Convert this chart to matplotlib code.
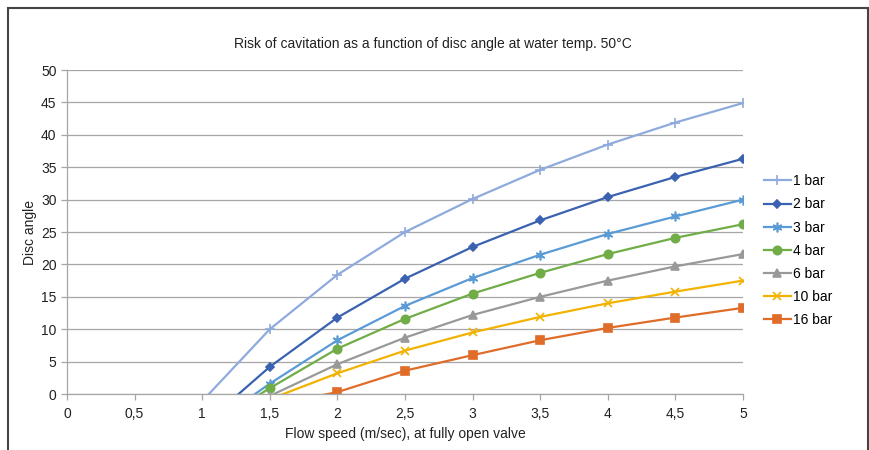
import numpy as np
import matplotlib
matplotlib.use("Agg")
import matplotlib.pyplot as plt
from matplotlib.patches import Rectangle
from matplotlib.ticker import FuncFormatter, MultipleLocator

plt.rcParams['font.family'] = ['Liberation Sans', 'DejaVu Sans']

# 데이터 (x = 유속, 값 = 디스크 각도); 0 아래 값은 축 밖으로 잘림
flow_speed = [1.0, 1.5, 2.0, 2.5, 3.0, 3.5, 4.0, 4.5, 5.0]
bar_1 = [-1.1, 10.0, 18.4, 25.0, 30.1, 34.6, 38.5, 41.9, 44.9]
bar_2 = [-4.9, 4.2, 11.8, 17.8, 22.7, 26.8, 30.4, 33.5, 36.3]
bar_3 = [-5.7, 1.6, 8.3, 13.6, 17.9, 21.5, 24.7, 27.4, 30.0]
bar_4 = [-5.5, 0.9, 7.0, 11.6, 15.5, 18.7, 21.6, 24.1, 26.2]
bar_6 = [np.nan, -0.3, 4.6, 8.7, 12.2, 15.0, 17.5, 19.7, 21.6]
bar_10 = [np.nan, -0.8, 3.2, 6.7, 9.5, 11.9, 14.0, 15.8, 17.5]
bar_16 = [np.nan, -1.8, 0.3, 3.6, 6.0, 8.3, 10.2, 11.8, 13.3]

labels = ["1 bar", "2 bar", "3 bar", "4 bar", "6 bar", "10 bar", "16 bar"]
series = [bar_1, bar_2, bar_3, bar_4, bar_6, bar_10, bar_16]
colors = ["#8FAADC", "#3A62B0", "#5B9BD5", "#70AD47", "#999999", "#F2B200", "#E06C2A"]
markers = ["+", "D", (6, 2, 0), "o", "^", "x", "s"]
msizes = [7, 4.5, 7, 6, 6, 6, 5.5]

fig = plt.figure(figsize=(8.7, 4.5), dpi=100)
ax = fig.add_axes([0.077, 0.1244, 0.777, 0.72])

for y, lab, c, m, ms in zip(series, labels, colors, markers, msizes):
    ax.plot(flow_speed, y, color=c, lw=1.6, marker=m, ms=ms, mew=1.2,
            label=lab, clip_on=True)

ax.set_xlim(0, 5)
ax.set_ylim(0, 50)
ax.xaxis.set_major_locator(MultipleLocator(0.5))
ax.yaxis.set_major_locator(MultipleLocator(5))
ax.xaxis.set_major_formatter(FuncFormatter(lambda v, p: f"{v:g}".replace(".", ",")))
ax.grid(axis='y', color='#A6A6A6', lw=0.9)
ax.set_axisbelow(True)
for s in ['top', 'right']:
    ax.spines[s].set_visible(False)
for s in ['left', 'bottom']:
    ax.spines[s].set_color('#A6A6A6')
    ax.spines[s].set_linewidth(0.9)
ax.tick_params(colors='#A6A6A6', labelcolor='#222222', labelsize=10, length=4, width=0.9)
ax.tick_params(axis='x', pad=5)

ax.set_xlabel("Flow speed (m/sec), at fully open valve", fontsize=10, color='#222222', labelpad=5)
ax.set_ylabel("Disc angle", fontsize=10, color='#222222', labelpad=3)
fig.text(0.497, 0.902, "Risk of cavitation as a function of disc angle at water temp. 50°C",
         ha='center', va='center', fontsize=10, color='#222222')

fig.legend(loc='upper left', bbox_to_anchor=(0.872, 0.625), frameon=False,
           fontsize=10, handlelength=1.9, handletextpad=0.2, labelspacing=0.66,
           borderaxespad=0)

# 바깥 테두리
fig.patches.append(Rectangle((8 / 870, -0.1), 860 / 870, 1.1 - 8 / 450,
                             transform=fig.transFigure, fill=False,
                             edgecolor='#444444', lw=1.5))

fig.savefig("out.png", dpi=100)
